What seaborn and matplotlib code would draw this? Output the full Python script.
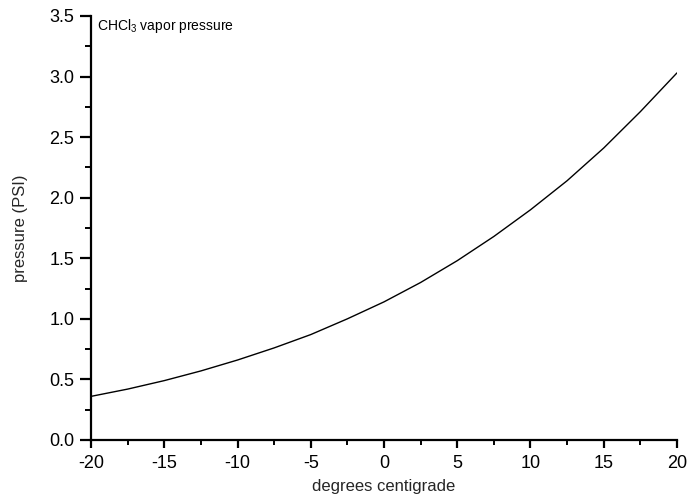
import matplotlib
matplotlib.use("Agg")
import matplotlib.pyplot as plt
import seaborn as sns
import pandas as pd
from matplotlib.ticker import MultipleLocator, FuncFormatter

temperature_c = [-20, -17.5, -15, -12.5, -10, -7.5, -5, -2.5, 0, 2.5, 5, 7.5, 10, 12.5, 15, 17.5, 20]
pressure_psi = [0.36, 0.42, 0.49, 0.57, 0.66, 0.76, 0.87, 1.00, 1.14, 1.30, 1.48, 1.68, 1.90, 2.14, 2.41, 2.71, 3.03]

sns.set_theme(style="ticks")
plt.rcParams['font.family'] = ['Liberation Sans', 'DejaVu Sans']
plt.rcParams['mathtext.default'] = 'regular'

df = pd.DataFrame({"t": temperature_c, "p": pressure_psi})

fig = plt.figure(figsize=(6.88, 4.98), dpi=100)
ax = fig.add_axes([0.1323, 0.1165, 0.8517, 0.8515])
sns.lineplot(data=df, x="t", y="p", ax=ax, color="black", linewidth=1.0)

ax.set_xlim(-20, 20)
ax.set_ylim(0, 3.5)
ax.xaxis.set_major_locator(MultipleLocator(5))
ax.xaxis.set_minor_locator(MultipleLocator(2.5))
ax.yaxis.set_major_locator(MultipleLocator(0.5))
ax.yaxis.set_minor_locator(MultipleLocator(0.25))
ax.xaxis.set_major_formatter(FuncFormatter(lambda v, p: f"{v:.0f}"))
ax.yaxis.set_major_formatter(FuncFormatter(lambda v, p: f"{v:.1f}"))

for s in ["top", "right"]:
    ax.spines[s].set_visible(False)
for s in ["left", "bottom"]:
    ax.spines[s].set_linewidth(1.6)
    ax.spines[s].set_color("black")

ax.tick_params(axis="both", which="both", direction="out", colors="black", labelsize=13)
ax.tick_params(axis="y", which="major", length=8, width=1.6, pad=4)
ax.tick_params(axis="y", which="minor", length=4, width=1.4)
ax.tick_params(axis="x", which="major", length=6, width=1.6, pad=5)
ax.tick_params(axis="x", which="minor", length=3.5, width=1.4)

ax.set_xlabel("degrees centigrade", fontsize=12, labelpad=5)
ax.set_ylabel("pressure (PSI)", fontsize=12, labelpad=15)

ax.text(0.011, 0.997, "CHCl$_3$ vapor pressure", transform=ax.transAxes,
        fontsize=10, va="top", ha="left", color="black")

fig.savefig("out.png", dpi=100)
